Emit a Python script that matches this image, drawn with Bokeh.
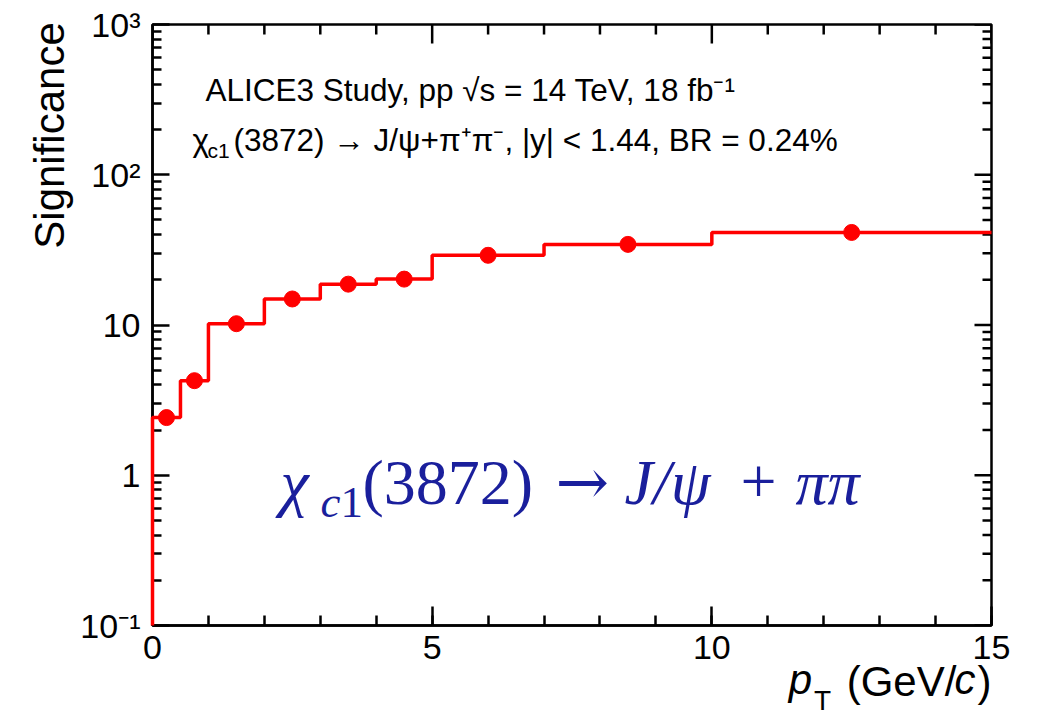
from bokeh.plotting import figure
from bokeh.models import Range1d, FixedTicker, Label, LinearAxis, LogAxis
from bokeh.embed import file_html
from bokeh.resources import INLINE
import math

# ---------------- data ----------------
bin_edges = [0, 0.5, 1, 2, 3, 4, 5, 7, 10, 15]
bin_centers = [0.25, 0.75, 1.5, 2.5, 3.5, 4.5, 6.0, 8.5, 12.5]
significance = [2.42, 4.26, 10.2, 14.9, 18.7, 20.2, 29.1, 34.4, 41.3]

x_major = [0, 5, 10, 15]
x_minor = list(range(0, 16))
y_major = [0.1, 1, 10, 100, 1000]
y_labels = {0.1: "10\u207b\u00b9", 1: "1", 10: "10", 100: "10\u00b2", 1000: "10\u00b3"}

X_MIN, X_MAX = 0, 15
Y_MIN, Y_MAX = 0.1, 1000

# ------------- page geometry -------------
W, H = 1030, 724
FL, FR, FT, FB = 152, 991, 24, 625   # frame edges in page pixels
SANS = "Liberation Sans"
SERIF = "Liberation Serif"
BLUE = "#1a1f9c"
LW = 2.5
BASE_CORR = 0.38   # empirical baseline correction (fraction of font size)

p = figure(width=W, height=H, x_range=Range1d(X_MIN, X_MAX),
           y_range=Range1d(Y_MIN, Y_MAX), y_axis_type="log",
           output_backend="svg", toolbar_location=None,
           min_border_left=FL, min_border_right=W - FR,
           min_border_top=FT, min_border_bottom=H - FB)
p.background_fill_color = "white"
p.border_fill_color = "white"
p.outline_line_color = "black"
p.outline_line_width = LW
p.xgrid.visible = False
p.ygrid.visible = False

y_minor = [m * 10 ** e for e in range(-1, 3) for m in range(2, 10)]

x_per_px = (X_MAX - X_MIN) / (FR - FL)
dec_per_px = (math.log10(Y_MAX) - math.log10(Y_MIN)) / (FB - FT)


def px2x(px):
    return X_MIN + (px - FL) * x_per_px


def py2y(py):
    return 10 ** (math.log10(Y_MIN) - (py - FB) * dec_per_px)


def style_axis(ax, major, minor, tick_major, tick_minor):
    ax.ticker = FixedTicker(ticks=major, minor_ticks=minor)
    ax.axis_line_width = LW
    ax.axis_line_color = "black"
    ax.major_tick_in = tick_major
    ax.major_tick_out = 0
    ax.minor_tick_in = tick_minor
    ax.minor_tick_out = 0
    ax.major_tick_line_width = LW
    ax.minor_tick_line_width = LW
    ax.major_label_text_font = SANS
    ax.major_label_text_color = "black"
    ax.major_label_text_font_size = "34px"


xb = p.xaxis[0]
style_axis(xb, x_major, x_minor, 19, 10)
xb.major_label_standoff = 10
yl = p.yaxis[0]
style_axis(yl, y_major, y_minor, 17, 9)
yl.major_label_standoff = 12
yl.major_label_overrides = y_labels


def title_axis(ax, pieces, where, size, style, standoff, orientation="horizontal"):
    """An extra axis that only carries title text pieces as tick labels."""
    pos = [q[0] for q in pieces]
    ax.ticker = FixedTicker(ticks=pos, minor_ticks=[])
    ax.major_label_overrides = {q[0]: q[1] for q in pieces}
    ax.axis_line_color = None
    ax.major_tick_line_color = None
    ax.minor_tick_line_color = None
    ax.major_tick_in = 0
    ax.major_tick_out = 0
    ax.minor_tick_in = 0
    ax.minor_tick_out = 0
    ax.major_label_text_font = SANS
    ax.major_label_text_font_size = f"{size}px"
    ax.major_label_text_font_style = style
    ax.major_label_text_color = "black"
    ax.major_label_standoff = standoff
    ax.major_label_orientation = orientation
    p.add_layout(ax, where)
    return ax


# x-axis title  "p_T (GeV/c)"
title_axis(LinearAxis(), [(px2x(800), "p"), (px2x(964.5), "c")], "below", 42, "italic", -6)
title_axis(LinearAxis(), [(px2x(901), "(GeV/"), (px2x(984), ")")], "below", 42, "normal", -48)
title_axis(LinearAxis(), [(px2x(822), "T")], "below", 28, "normal", -23)

# y-axis title "Significance" as one rotated label on an extra left axis
title_axis(LogAxis(), [(py2y(135), "Significance")], "left", 42, "normal", 5,
           orientation="vertical")

# ticks on the top and right frame edges
x_minor_only = [v for v in x_minor if v not in x_major]
y_minor_only = [v for v in y_minor if v not in y_major]
p.ray(x=x_major, y=[Y_MAX] * len(x_major), length=19, length_units="screen",
      angle=-math.pi / 2, line_color="black", line_width=LW)
p.ray(x=x_minor_only, y=[Y_MAX] * len(x_minor_only), length=10, length_units="screen",
      angle=-math.pi / 2, line_color="black", line_width=LW)
p.ray(x=[X_MAX] * len(y_major), y=y_major, length=17, length_units="screen",
      angle=math.pi, line_color="black", line_width=LW)
p.ray(x=[X_MAX] * len(y_minor_only), y=y_minor_only, length=9, length_units="screen",
      angle=math.pi, line_color="black", line_width=LW)

# ------------- histogram step line -------------
step_x = [bin_edges[0]]
step_y = [Y_MIN]
for i, v in enumerate(significance):
    step_x += [bin_edges[i], bin_edges[i + 1]]
    step_y += [v, v]
p.line(step_x, step_y, line_color="#ff0000", line_width=3.5, level="overlay")
p.scatter(bin_centers, significance, size=16, color="#ff0000")


# ------------- texts inside the frame -------------
def lab(px, py, text, size, font=SANS, style="normal", color="black", align="left"):
    py = py - BASE_CORR * size
    p.add_layout(Label(x=px - FL, y=FB - py, x_units="screen", y_units="screen",
                       text=text, text_font_size=f"{size}px", text_font=font,
                       text_font_style=style, text_color=color,
                       text_align=align, text_baseline="alphabetic"))


# header lines
HS = 31.5
lab(205, 101, "ALICE3 Study, pp \u221as = 14 TeV, 18 fb\u207b\u00b9", HS)
lab(192, 151, "\u03c7", HS)
lab(207, 158, "c1", 21)
lab(233, 151, "(3872) \u2192 J/\u03c8+\u03c0\u207a\u03c0\u207b, |y| < 1.44, BR = 0.24%", HS)

# big blue formula
BY = 506
BS = 64
lab(280, BY, "\u03c7", BS, SERIF, "italic", BLUE)
lab(320, BY + 13, "c", 45, SERIF, "italic", BLUE)
lab(340, BY + 13, "1", 45, SERIF, "normal", BLUE)
lab(362, BY, "(3872)", BS, SERIF, "normal", BLUE)
lab(555, BY, "\u2192", BS, "DejaVu Serif", "normal", BLUE)
lab(624, BY, "J/\u03c8", BS, SERIF, "italic", BLUE)
lab(740, BY, "+", BS, SERIF, "normal", BLUE)
lab(795, BY, "\u03c0\u03c0", BS, SERIF, "italic", BLUE)

open("out.html", "w").write(file_html(p, INLINE))
